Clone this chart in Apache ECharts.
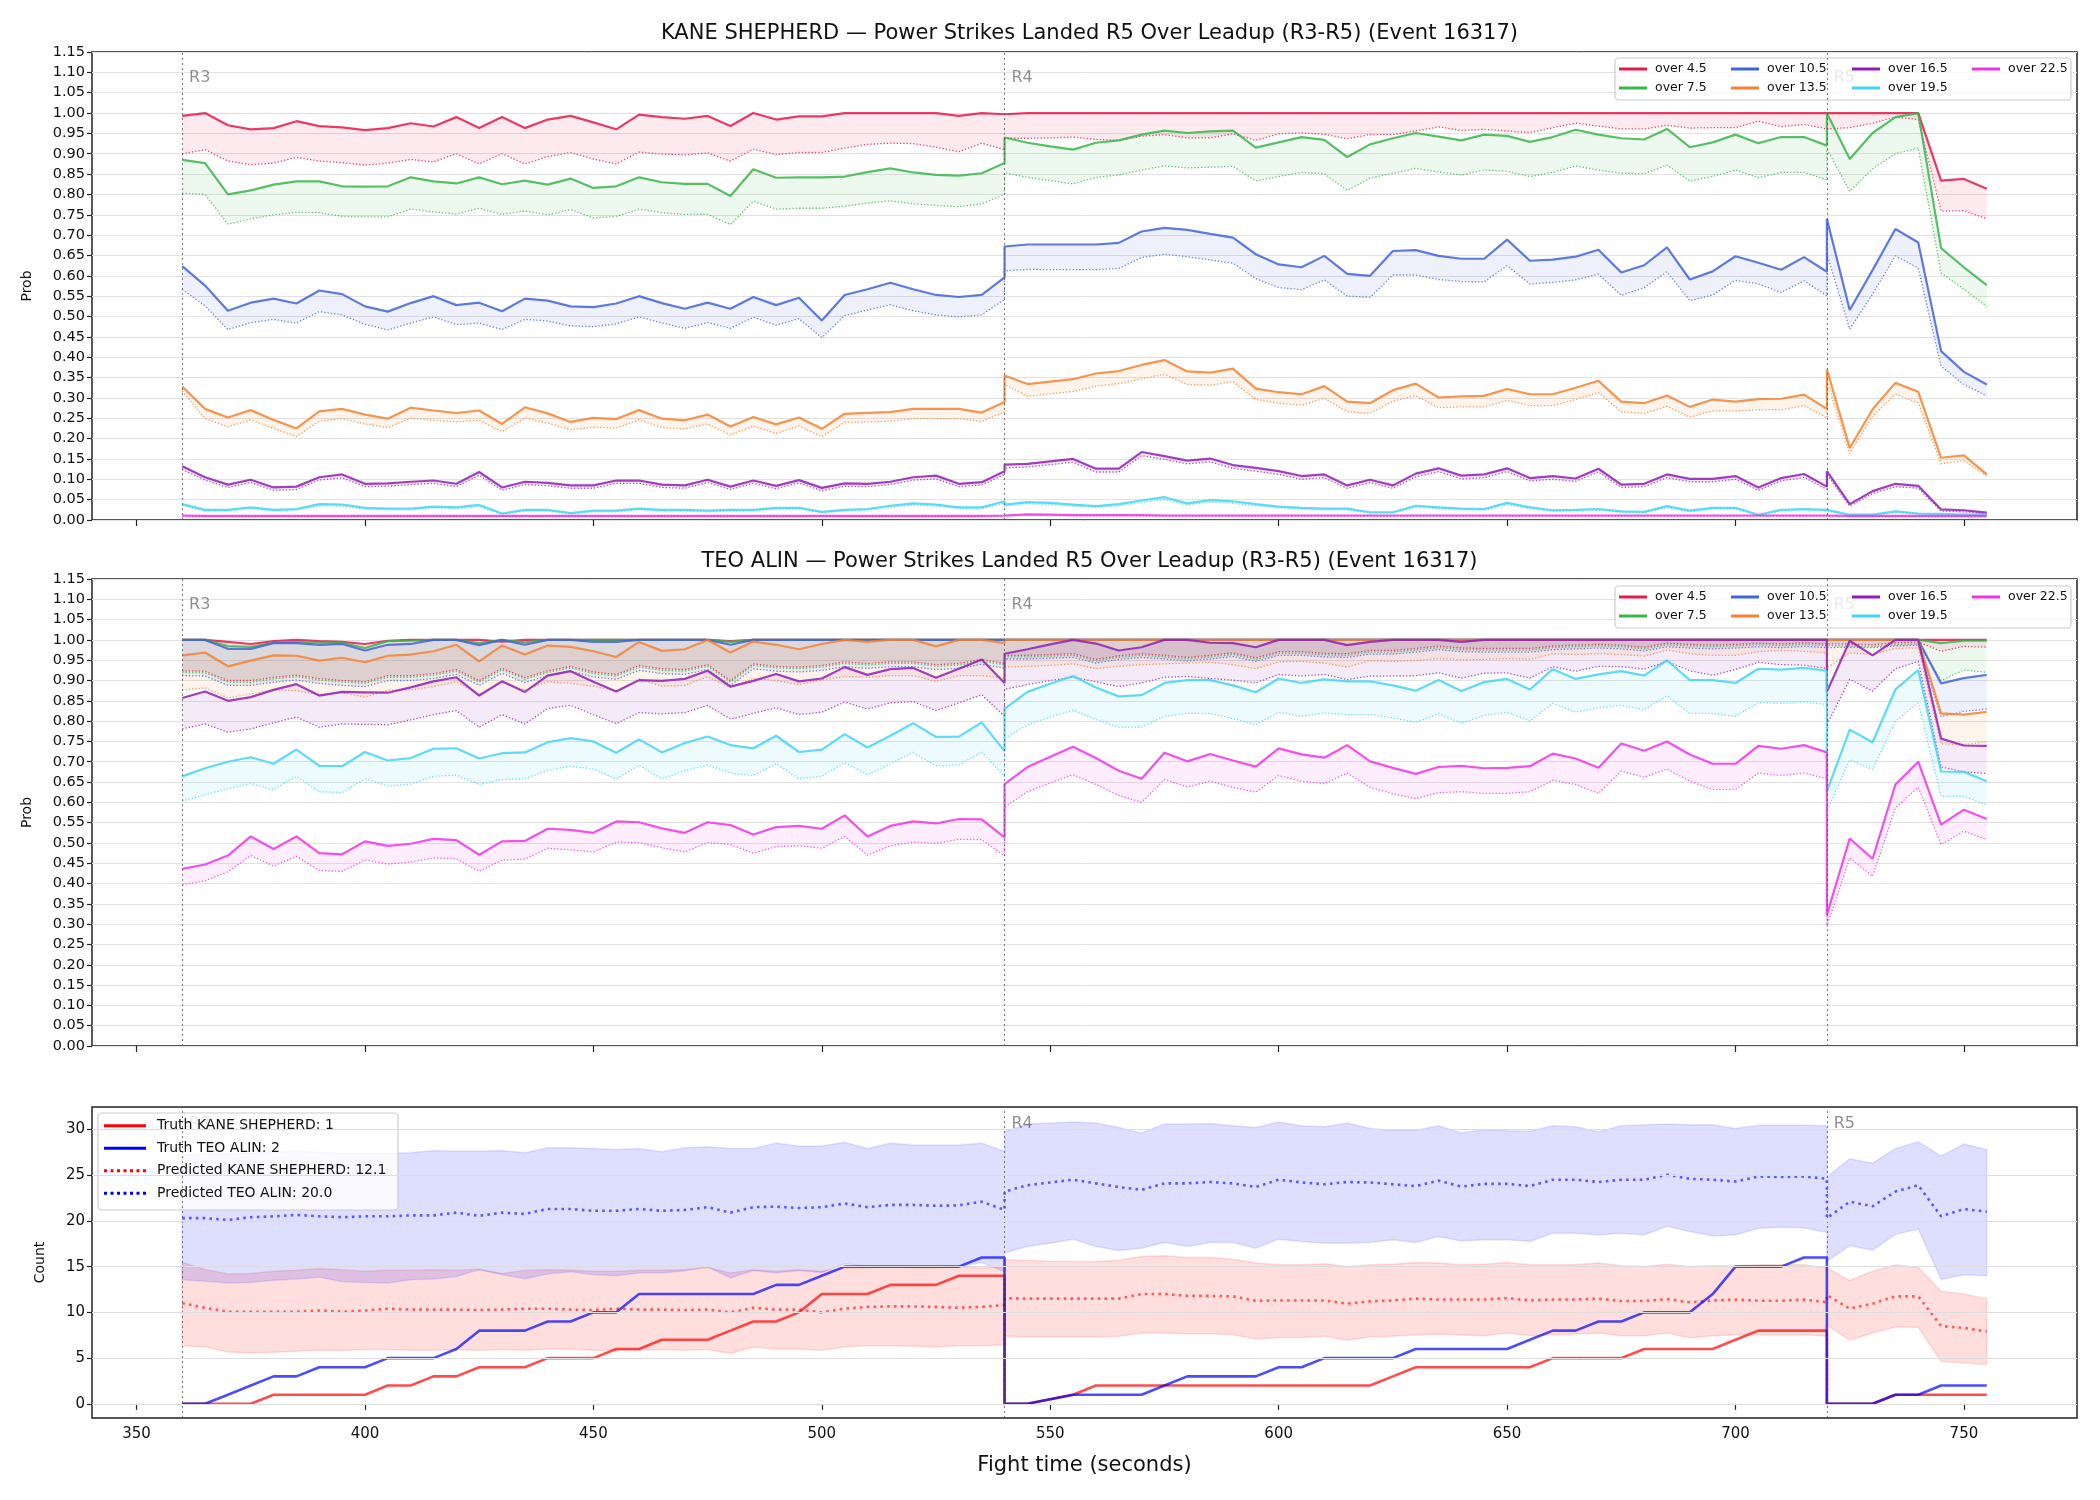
<!DOCTYPE html>
<html>
<head>
<meta charset="utf-8">
<script src="https://cdn.jsdelivr.net/npm/echarts@6/dist/echarts.min.js"></script>
<style>
  html, body { margin: 0; padding: 0; background: #fff; }
  #chart { width: 2100px; height: 1500px; }
</style>
</head>
<body>
<div id="chart"></div>
<script>
// sample times (s): R3, R4, R5 (boundaries repeated)
var times = [
  360,365,370,375,380,385,390,395,400,405,410,415,420,425,430,435,440,445,450,455,460,465,470,475,480,485,490,495,500,505,510,515,520,525,530,535,540,
  540,545,550,555,560,565,570,575,580,585,590,595,600,605,610,615,620,625,630,635,640,645,650,655,660,665,670,675,680,685,690,695,700,705,710,715,720,
  720,725,730,735,740,745,750,755
];
var xTicks = [350, 400, 450, 500, 550, 600, 650, 700, 750];
var countTicks = [0, 5, 10, 15, 20, 25, 30];
var rounds = [360, 540, 720];
var roundNames = ['R3', 'R4', 'R5'];
var lines = ['over 4.5', 'over 7.5', 'over 10.5', 'over 13.5', 'over 16.5', 'over 19.5', 'over 22.5'];

// KANE SHEPHERD, solid line and dotted line of each threshold
var kane45 = [0.993,1.0,0.97,0.96,0.963,0.98,0.968,0.965,0.958,0.963,0.975,0.967,0.99,0.963,0.99,0.963,0.984,0.993,0.977,0.96,0.996,0.99,0.986,0.993,0.968,1.0,0.984,0.992,0.992,1.0,1.0,1.0,1.0,1.0,0.993,1.0,0.997,
  1,1,1,1,1,1,1,1,1,1,1,1,1,1,1,1,1,1,1,1,1,1,1,1,1,1,1,1,1,1,1,1,1,1,1,1,1,
  1.0,1.0,1.0,1.0,1.0,0.834,0.838,0.814];
var kane45p = [0.90,0.91,0.882,0.873,0.877,0.891,0.882,0.878,0.872,0.877,0.886,0.88,0.90,0.875,0.90,0.875,0.893,0.903,0.887,0.875,0.904,0.899,0.897,0.902,0.882,0.911,0.898,0.903,0.903,0.914,0.923,0.926,0.925,0.916,0.905,0.926,0.91,
  0.938,0.938,0.939,0.941,0.935,0.933,0.943,0.947,0.939,0.939,0.949,0.933,0.949,0.951,0.948,0.937,0.947,0.947,0.956,0.966,0.957,0.96,0.956,0.952,0.964,0.975,0.968,0.961,0.961,0.97,0.963,0.964,0.964,0.98,0.967,0.972,0.961,
  0.961,0.964,0.975,0.99,0.984,0.759,0.76,0.74];
var kane75 = [0.885,0.877,0.80,0.81,0.824,0.832,0.832,0.82,0.819,0.82,0.842,0.832,0.827,0.842,0.825,0.834,0.824,0.839,0.816,0.82,0.842,0.83,0.826,0.826,0.796,0.862,0.841,0.842,0.842,0.844,0.855,0.864,0.854,0.848,0.846,0.852,0.877,
  0.94,0.927,0.918,0.91,0.927,0.933,0.947,0.957,0.951,0.955,0.957,0.915,0.928,0.941,0.934,0.892,0.923,0.938,0.951,0.942,0.933,0.947,0.944,0.929,0.941,0.959,0.947,0.938,0.935,0.961,0.916,0.928,0.947,0.926,0.941,0.941,0.92,
  1.0,0.887,0.951,0.99,1.0,0.668,0.621,0.577];
var kane75p = [0.803,0.80,0.727,0.74,0.75,0.756,0.755,0.746,0.745,0.745,0.764,0.757,0.752,0.766,0.751,0.759,0.75,0.763,0.742,0.746,0.764,0.755,0.751,0.751,0.726,0.783,0.764,0.766,0.766,0.771,0.779,0.784,0.777,0.773,0.77,0.777,0.80,
  0.853,0.842,0.834,0.826,0.842,0.848,0.86,0.87,0.865,0.867,0.869,0.833,0.844,0.854,0.851,0.81,0.84,0.852,0.864,0.855,0.848,0.86,0.857,0.844,0.854,0.87,0.86,0.852,0.851,0.872,0.833,0.844,0.86,0.841,0.854,0.854,0.836,
  0.912,0.808,0.863,0.90,0.914,0.607,0.567,0.525];
var kane105 = [0.624,0.576,0.514,0.534,0.544,0.532,0.564,0.555,0.525,0.512,0.533,0.55,0.528,0.534,0.513,0.544,0.539,0.525,0.523,0.532,0.55,0.533,0.519,0.534,0.519,0.548,0.528,0.546,0.49,0.553,0.567,0.583,0.567,0.553,0.548,0.553,0.596,
  0.672,0.677,0.677,0.677,0.677,0.681,0.709,0.718,0.713,0.703,0.694,0.653,0.628,0.621,0.649,0.605,0.60,0.661,0.663,0.649,0.642,0.642,0.689,0.637,0.64,0.647,0.664,0.608,0.626,0.67,0.591,0.611,0.648,0.632,0.615,0.646,0.61,
  0.74,0.516,0.614,0.715,0.682,0.415,0.364,0.333];
var kane105p = [0.567,0.526,0.468,0.485,0.493,0.484,0.512,0.504,0.481,0.467,0.484,0.499,0.48,0.484,0.468,0.493,0.489,0.477,0.475,0.482,0.499,0.484,0.471,0.485,0.471,0.498,0.479,0.495,0.448,0.502,0.516,0.529,0.514,0.504,0.499,0.504,0.542,
  0.612,0.616,0.615,0.615,0.615,0.618,0.645,0.653,0.647,0.639,0.631,0.593,0.571,0.566,0.59,0.55,0.547,0.602,0.602,0.591,0.586,0.585,0.625,0.58,0.584,0.59,0.604,0.552,0.571,0.61,0.539,0.553,0.589,0.58,0.559,0.588,0.551,
  0.654,0.469,0.555,0.649,0.619,0.378,0.333,0.305];
var kane135 = [0.328,0.273,0.252,0.27,0.246,0.225,0.267,0.273,0.259,0.249,0.276,0.269,0.263,0.269,0.236,0.277,0.262,0.241,0.251,0.248,0.27,0.249,0.245,0.259,0.23,0.253,0.235,0.252,0.224,0.261,0.263,0.265,0.273,0.273,0.273,0.264,0.29,
  0.355,0.334,0.34,0.346,0.36,0.366,0.381,0.393,0.365,0.362,0.372,0.323,0.314,0.309,0.329,0.291,0.287,0.319,0.335,0.301,0.304,0.305,0.322,0.309,0.309,0.325,0.342,0.291,0.287,0.306,0.278,0.296,0.291,0.297,0.298,0.308,0.273,
  0.37,0.177,0.272,0.337,0.315,0.153,0.159,0.112];
var kane135p = [0.317,0.249,0.229,0.246,0.225,0.205,0.243,0.249,0.236,0.227,0.25,0.245,0.241,0.245,0.217,0.251,0.238,0.222,0.228,0.226,0.246,0.227,0.224,0.236,0.209,0.231,0.213,0.231,0.205,0.24,0.241,0.243,0.249,0.249,0.249,0.242,0.266,
  0.333,0.304,0.31,0.316,0.329,0.335,0.347,0.358,0.333,0.331,0.34,0.296,0.287,0.282,0.299,0.266,0.262,0.292,0.305,0.276,0.278,0.278,0.294,0.281,0.281,0.296,0.313,0.266,0.262,0.279,0.253,0.268,0.268,0.271,0.271,0.281,0.251,
  0.342,0.163,0.255,0.309,0.288,0.138,0.146,0.108];
var kane165 = [0.132,0.105,0.087,0.099,0.08,0.082,0.105,0.112,0.089,0.09,0.094,0.097,0.089,0.118,0.08,0.094,0.091,0.085,0.085,0.097,0.097,0.087,0.085,0.099,0.082,0.097,0.084,0.098,0.079,0.09,0.089,0.094,0.105,0.109,0.089,0.093,0.12,
  0.136,0.138,0.144,0.15,0.126,0.126,0.167,0.157,0.146,0.151,0.135,0.128,0.12,0.108,0.112,0.085,0.099,0.085,0.114,0.127,0.109,0.112,0.127,0.103,0.108,0.102,0.126,0.087,0.089,0.112,0.101,0.101,0.108,0.08,0.103,0.113,0.082,
  0.12,0.039,0.071,0.089,0.084,0.026,0.024,0.018];
var kane165p = [0.124,0.098,0.08,0.092,0.073,0.075,0.098,0.104,0.082,0.083,0.087,0.09,0.082,0.11,0.073,0.087,0.084,0.078,0.078,0.09,0.09,0.08,0.078,0.092,0.075,0.09,0.077,0.091,0.072,0.083,0.082,0.087,0.098,0.101,0.082,0.086,0.112,
  0.128,0.13,0.136,0.142,0.118,0.118,0.158,0.149,0.138,0.143,0.127,0.12,0.112,0.1,0.104,0.078,0.092,0.078,0.106,0.119,0.101,0.104,0.119,0.096,0.1,0.095,0.118,0.08,0.082,0.104,0.094,0.094,0.1,0.073,0.096,0.105,0.075,
  0.112,0.034,0.065,0.082,0.078,0.022,0.02,0.015];
var kane195 = [0.039,0.025,0.025,0.031,0.025,0.027,0.039,0.038,0.03,0.028,0.028,0.033,0.031,0.037,0.016,0.025,0.025,0.017,0.023,0.023,0.028,0.025,0.025,0.023,0.025,0.025,0.03,0.03,0.02,0.025,0.027,0.035,0.041,0.038,0.031,0.031,0.046,
  0.038,0.044,0.042,0.038,0.034,0.039,0.048,0.056,0.041,0.049,0.046,0.039,0.033,0.03,0.028,0.028,0.019,0.019,0.035,0.031,0.028,0.027,0.042,0.031,0.024,0.025,0.027,0.021,0.02,0.034,0.023,0.03,0.03,0.013,0.025,0.027,0.025,
  0.025,0.013,0.013,0.021,0.016,0.015,0.013,0.013];
var kane195p = [0.036,0.022,0.022,0.028,0.022,0.024,0.035,0.034,0.027,0.025,0.025,0.03,0.028,0.033,0.014,0.022,0.022,0.015,0.02,0.02,0.025,0.022,0.022,0.02,0.022,0.022,0.027,0.027,0.018,0.022,0.024,0.031,0.037,0.034,0.028,0.028,0.041,
  0.034,0.04,0.038,0.034,0.031,0.035,0.043,0.05,0.037,0.044,0.041,0.035,0.03,0.027,0.025,0.025,0.017,0.017,0.031,0.028,0.025,0.024,0.038,0.028,0.021,0.022,0.024,0.019,0.018,0.03,0.02,0.027,0.027,0.011,0.022,0.024,0.022,
  0.022,0.011,0.011,0.019,0.014,0.013,0.011,0.011];
var kane225 = [0.011,0.01,0.01,0.01,0.01,0.01,0.01,0.01,0.01,0.01,0.01,0.01,0.01,0.01,0.01,0.01,0.01,0.01,0.01,0.01,0.01,0.01,0.01,0.01,0.01,0.01,0.01,0.01,0.01,0.01,0.01,0.01,0.01,0.01,0.01,0.01,0.011,
  0.013,0.014,0.013,0.012,0.012,0.012,0.012,0.011,0.011,0.011,0.011,0.011,0.011,0.011,0.011,0.011,0.011,0.011,0.011,0.011,0.011,0.011,0.011,0.011,0.011,0.011,0.011,0.011,0.011,0.011,0.011,0.011,0.011,0.011,0.011,0.011,0.011,
  0.011,0.01,0.01,0.01,0.01,0.01,0.01,0.01];
var kane225p = [0.008,0.008,0.008,0.008,0.008,0.008,0.008,0.008,0.008,0.008,0.008,0.008,0.008,0.008,0.008,0.008,0.008,0.008,0.008,0.008,0.008,0.008,0.008,0.008,0.008,0.008,0.008,0.008,0.008,0.008,0.008,0.008,0.008,0.008,0.008,0.008,0.009,
  0.011,0.012,0.011,0.01,0.01,0.01,0.01,0.009,0.009,0.009,0.009,0.009,0.009,0.009,0.009,0.009,0.009,0.009,0.009,0.009,0.009,0.009,0.009,0.009,0.009,0.009,0.009,0.009,0.009,0.009,0.009,0.009,0.009,0.009,0.009,0.009,0.009,
  0.009,0.008,0.008,0.008,0.008,0.008,0.008,0.008];

// TEO ALIN
var teo45 = [1.0,1.0,0.995,0.99,0.997,1.0,0.997,0.995,0.99,0.998,1.0,1.0,1.0,1.0,0.996,1.0,1.0,1.0,1.0,1.0,1.0,1.0,1.0,1.0,0.997,1.0,1.0,1.0,1.0,1.0,1.0,1.0,1.0,1.0,1.0,1.0,1.0,
  1,1,1,1,1,1,1,1,1,1,1,1,1,1,1,1,1,1,1,1,1,1,1,1,1,1,1,1,1,1,1,1,1,1,1,1,1,
  1,1,1,1,1,1,1,1];
var teo45p = [0.924,0.923,0.90,0.90,0.908,0.913,0.905,0.90,0.897,0.912,0.912,0.917,0.927,0.90,0.93,0.907,0.924,0.935,0.921,0.915,0.937,0.929,0.927,0.939,0.90,0.941,0.935,0.933,0.937,0.946,0.942,0.946,0.946,0.939,0.942,0.952,0.942,
  0.962,0.962,0.964,0.966,0.952,0.961,0.966,0.962,0.957,0.962,0.968,0.956,0.971,0.971,0.967,0.966,0.974,0.974,0.979,0.985,0.98,0.979,0.979,0.979,0.985,0.987,0.989,0.987,0.982,0.992,0.989,0.987,0.989,0.992,0.99,0.993,0.99,
  0.992,0.99,0.988,0.993,0.995,0.972,0.984,0.982];
var teo75 = [1.0,1.0,0.985,0.983,0.993,0.995,0.993,0.993,0.98,0.997,0.998,1.0,1.0,0.992,1.0,0.994,1.0,1.0,1.0,1.0,1.0,1.0,1.0,1.0,0.995,1.0,1.0,1.0,1.0,1.0,1.0,1.0,1.0,1.0,1.0,1.0,1.0,
  1,1,1,1,1,1,1,1,1,1,1,1,1,1,1,1,1,1,1,1,1,1,1,1,1,1,1,1,1,1,1,1,1,1,1,1,1,
  1.0,1.0,1.0,1.0,1.0,0.992,0.998,0.998];
var teo75p = [0.92,0.919,0.896,0.895,0.904,0.909,0.901,0.896,0.893,0.908,0.908,0.913,0.923,0.896,0.926,0.903,0.92,0.931,0.917,0.911,0.933,0.925,0.923,0.935,0.896,0.937,0.931,0.929,0.933,0.942,0.938,0.942,0.942,0.935,0.938,0.948,0.938,
  0.958,0.958,0.96,0.962,0.948,0.957,0.962,0.958,0.953,0.958,0.964,0.952,0.967,0.967,0.963,0.962,0.97,0.97,0.975,0.981,0.976,0.975,0.975,0.975,0.981,0.983,0.985,0.983,0.978,0.988,0.985,0.983,0.985,0.988,0.986,0.989,0.986,
  0.986,0.985,0.984,0.988,0.99,0.90,0.926,0.92];
var teo105 = [1.0,1.0,0.978,0.978,0.992,0.992,0.988,0.99,0.974,0.988,0.99,1.0,1.0,0.987,1.0,0.988,1.0,1.0,0.995,0.995,1.0,1.0,1.0,1.0,0.988,1.0,1.0,1.0,1.0,1.0,1.0,1.0,1.0,1.0,1.0,1.0,1.0,
  1,1,1,1,1,1,1,1,1,1,1,1,1,1,1,1,1,1,1,1,1,1,1,1,1,1,1,1,1,1,1,1,1,1,1,1,1,
  1.0,1.0,1.0,1.0,1.0,0.893,0.906,0.914];
var teo105p = [0.912,0.911,0.888,0.888,0.896,0.901,0.893,0.888,0.885,0.9,0.9,0.905,0.915,0.888,0.918,0.895,0.912,0.923,0.909,0.903,0.925,0.917,0.915,0.927,0.888,0.929,0.923,0.921,0.925,0.934,0.93,0.934,0.934,0.927,0.93,0.94,0.93,
  0.953,0.953,0.955,0.957,0.943,0.952,0.957,0.953,0.948,0.953,0.959,0.947,0.962,0.962,0.958,0.957,0.965,0.965,0.97,0.976,0.971,0.97,0.97,0.97,0.976,0.978,0.98,0.978,0.973,0.983,0.98,0.978,0.98,0.983,0.981,0.984,0.981,
  0.98,0.982,0.981,0.985,0.987,0.811,0.824,0.83];
var teo135 = [0.962,0.969,0.935,0.949,0.962,0.961,0.949,0.956,0.945,0.961,0.964,0.972,0.988,0.947,0.986,0.964,0.986,0.983,0.972,0.958,0.995,0.973,0.977,1.0,0.969,0.996,0.988,0.977,0.99,1.0,0.995,1.0,1.0,0.984,1.0,1.0,0.992,
  1,1,1,1,1,1,1,1,1,1,1,1,1,1,1,1,1,1,1,1,1,1,1,1,1,1,1,1,1,1,1,1,1,1,1,1,1,
  1.0,1.0,1.0,1.0,1.0,0.819,0.816,0.823];
var teo135p = [0.877,0.882,0.857,0.867,0.877,0.875,0.865,0.87,0.859,0.876,0.877,0.885,0.897,0.865,0.895,0.877,0.897,0.893,0.886,0.874,0.904,0.886,0.888,0.909,0.883,0.905,0.9,0.89,0.901,0.91,0.908,0.912,0.912,0.898,0.912,0.912,0.906,
  0.933,0.935,0.937,0.941,0.929,0.935,0.939,0.941,0.943,0.945,0.939,0.929,0.946,0.947,0.943,0.933,0.949,0.947,0.949,0.954,0.951,0.952,0.954,0.952,0.966,0.964,0.966,0.964,0.96,0.975,0.966,0.962,0.962,0.971,0.974,0.972,0.968,
  0.931,0.968,0.964,0.979,0.98,0.744,0.742,0.749];
var teo165 = [0.857,0.873,0.85,0.859,0.877,0.891,0.863,0.872,0.871,0.87,0.883,0.898,0.908,0.863,0.898,0.872,0.912,0.923,0.897,0.873,0.901,0.899,0.904,0.924,0.885,0.899,0.916,0.898,0.905,0.933,0.914,0.928,0.931,0.907,0.929,0.952,0.894,
  0.966,0.977,0.989,1.0,0.991,0.974,0.982,1.0,1.0,0.993,0.992,0.982,1.0,1.0,1.0,0.987,0.995,1.0,1.0,1.0,0.995,1.0,1,1,1,1,1,1,1,1,1,1,1,1,1,1,1,
  0.872,0.998,0.962,1.0,1.0,0.757,0.74,0.739];
var teo165p = [0.781,0.793,0.773,0.781,0.796,0.81,0.785,0.793,0.792,0.791,0.803,0.816,0.826,0.785,0.816,0.793,0.831,0.839,0.816,0.794,0.821,0.818,0.821,0.839,0.805,0.819,0.833,0.816,0.822,0.847,0.83,0.845,0.848,0.826,0.845,0.865,0.812,
  0.878,0.89,0.9,0.908,0.897,0.885,0.894,0.908,0.91,0.905,0.901,0.894,0.915,0.911,0.915,0.902,0.911,0.911,0.912,0.919,0.906,0.918,0.919,0.906,0.934,0.923,0.935,0.934,0.928,0.947,0.924,0.913,0.927,0.945,0.939,0.938,0.929,
  0.791,0.903,0.874,0.929,0.947,0.687,0.675,0.671];
var teo195 = [0.664,0.684,0.70,0.711,0.695,0.73,0.69,0.689,0.724,0.703,0.709,0.732,0.733,0.708,0.721,0.723,0.748,0.758,0.75,0.722,0.755,0.723,0.746,0.762,0.741,0.733,0.764,0.724,0.73,0.768,0.735,0.764,0.795,0.761,0.762,0.797,0.726,
  0.83,0.872,0.892,0.911,0.883,0.861,0.864,0.894,0.901,0.901,0.888,0.871,0.905,0.894,0.903,0.898,0.898,0.888,0.875,0.901,0.874,0.896,0.904,0.878,0.928,0.904,0.915,0.923,0.912,0.95,0.901,0.901,0.894,0.929,0.927,0.931,0.924,
  0.627,0.779,0.748,0.878,0.926,0.676,0.675,0.652];
var teo195p = [0.603,0.619,0.634,0.646,0.631,0.664,0.626,0.624,0.658,0.64,0.645,0.664,0.667,0.644,0.656,0.658,0.679,0.689,0.682,0.658,0.691,0.658,0.678,0.692,0.672,0.666,0.695,0.658,0.664,0.698,0.668,0.695,0.723,0.69,0.692,0.724,0.663,
  0.757,0.791,0.81,0.827,0.804,0.785,0.785,0.812,0.819,0.819,0.806,0.791,0.822,0.812,0.82,0.816,0.816,0.808,0.797,0.818,0.795,0.814,0.822,0.80,0.844,0.822,0.833,0.839,0.828,0.862,0.819,0.819,0.812,0.846,0.844,0.847,0.841,
  0.578,0.705,0.681,0.80,0.845,0.615,0.615,0.594];
var teo225 = [0.436,0.447,0.469,0.516,0.485,0.516,0.475,0.472,0.504,0.493,0.498,0.51,0.507,0.471,0.504,0.505,0.535,0.532,0.525,0.553,0.551,0.536,0.525,0.551,0.544,0.521,0.539,0.542,0.535,0.568,0.516,0.542,0.553,0.548,0.559,0.558,0.514,
  0.645,0.687,0.712,0.737,0.709,0.678,0.658,0.722,0.701,0.719,0.703,0.688,0.733,0.718,0.71,0.741,0.701,0.685,0.67,0.687,0.69,0.684,0.685,0.689,0.72,0.708,0.685,0.745,0.727,0.75,0.718,0.695,0.695,0.739,0.732,0.741,0.723,
  0.323,0.511,0.461,0.644,0.70,0.545,0.582,0.559];
var teo225p = [0.397,0.407,0.429,0.469,0.443,0.467,0.432,0.43,0.458,0.448,0.453,0.463,0.461,0.43,0.458,0.46,0.487,0.483,0.478,0.502,0.501,0.488,0.478,0.501,0.496,0.475,0.491,0.493,0.487,0.516,0.47,0.493,0.502,0.499,0.509,0.508,0.468,
  0.588,0.626,0.648,0.668,0.644,0.617,0.60,0.656,0.638,0.652,0.637,0.625,0.666,0.652,0.646,0.672,0.637,0.621,0.609,0.624,0.626,0.622,0.622,0.626,0.654,0.644,0.622,0.677,0.662,0.682,0.652,0.632,0.632,0.672,0.666,0.672,0.658,
  0.295,0.463,0.418,0.586,0.637,0.496,0.529,0.508];

// counts panel
var truthKane = [0,0,0,0,1,1,1,1,1,2,2,3,3,4,4,4,5,5,5,6,6,7,7,7,8,9,9,10,12,12,12,13,13,13,14,14,14,
  0,0,0.5,1,2,2,2,2,2,2,2,2,2,2,2,2,2,3,4,4,4,4,4,4,5,5,5,5,6,6,6,6,7,8,8,8,8,
  0,0,0,1,1,1,1,1];
var truthTeo = [0,0,1,2,3,3,4,4,4,5,5,5,6,8,8,8,9,9,10,10,12,12,12,12,12,12,13,13,14,15,15,15,15,15,15,16,16,
  0,0,0.5,1,1,1,1,2,3,3,3,3,4,4,5,5,5,5,6,6,6,6,6,7,8,8,9,9,10,10,10,12,15,15,15,16,16,
  0,0,0,1,1,2,2,2];
var predKane = [11.0,10.5,10.07,10.07,10.07,10.07,10.2,10.07,10.2,10.4,10.3,10.3,10.3,10.25,10.3,10.4,10.4,10.3,10.25,10.4,10.3,10.3,10.25,10.3,10.0,10.5,10.3,10.3,10.0,10.4,10.6,10.65,10.65,10.6,10.5,10.6,10.8,
  11.56,11.5,11.5,11.5,11.5,11.5,12.0,12.0,11.8,11.8,11.75,11.27,11.3,11.3,11.3,10.95,11.2,11.3,11.5,11.4,11.4,11.4,11.56,11.3,11.4,11.4,11.5,11.24,11.24,11.45,11.1,11.3,11.4,11.27,11.27,11.4,11.1,
  11.9,10.4,10.95,11.75,11.75,8.5,8.3,7.9];
var predTeo = [20.3,20.3,20.1,20.4,20.5,20.65,20.5,20.4,20.5,20.5,20.6,20.6,20.9,20.55,20.9,20.76,21.3,21.3,21.1,21.1,21.3,21.1,21.2,21.5,20.9,21.5,21.56,21.4,21.5,21.9,21.5,21.75,21.75,21.65,21.7,22.1,21.2,
  23.2,23.9,24.2,24.5,24.1,23.7,23.4,24.1,24.1,24.25,24.1,23.7,24.5,24.2,24.0,24.25,24.2,24.0,23.8,24.4,23.75,24.05,24.05,23.8,24.5,24.5,24.25,24.5,24.5,25.05,24.6,24.5,24.3,24.85,24.8,24.85,24.6,
  20.3,22.1,21.6,23.2,23.9,20.5,21.3,21.0];
var kaneHi = [15.45,14.7,14.2,14.25,14.5,14.6,14.8,14.65,14.5,14.6,14.6,14.65,14.6,14.7,14.25,14.6,14.65,14.6,14.5,14.5,14.6,14.6,14.65,14.9,14.3,14.65,14.5,14.65,14.5,14.84,14.84,15.0,14.84,14.84,15.0,14.84,15.0,
  15.75,15.7,15.6,15.56,15.56,15.7,16.1,16.2,16.0,16.0,15.8,15.4,15.2,15.2,15.3,15.0,15.2,15.25,15.45,15.4,15.2,15.25,15.45,15.2,15.2,15.2,15.4,15.1,15.0,15.25,15.0,15.1,15.1,15.2,15.2,15.2,14.84,
  14.84,13.5,14.5,15.2,14.9,12.3,12.0,11.5];
var kaneLo = [6.36,6.2,5.67,5.56,5.64,5.75,5.85,5.82,5.93,5.93,5.85,5.85,5.93,5.85,5.93,5.85,6.0,6.0,5.85,5.85,5.85,5.93,5.85,5.93,5.5,6.2,6.0,6.0,5.85,6.2,6.36,6.36,6.3,6.2,6.36,6.36,6.47,
  7.4,7.3,7.3,7.3,7.3,7.4,7.75,7.75,7.67,7.67,7.56,7.1,7.24,7.24,7.4,6.95,7.3,7.4,7.56,7.6,7.53,7.45,7.75,7.45,7.56,7.64,7.75,7.45,7.45,7.75,7.2,7.45,7.56,7.56,7.56,7.56,7.4,
  8.65,6.95,7.75,8.4,8.36,4.65,4.47,4.3];
var teoHi = [27.2,27.3,27.3,27.4,27.5,27.6,27.5,27.4,27.4,27.4,27.45,27.7,27.6,27.6,27.7,27.45,28.0,28.0,27.9,27.8,27.9,27.56,28.0,28.1,27.9,27.9,28.5,28.2,28.2,28.6,27.9,28.5,28.3,28.3,28.3,28.5,27.6,
  29.75,30.6,30.7,30.8,30.7,30.2,29.6,30.6,30.6,30.65,30.4,30.2,30.8,30.4,30.3,30.7,30.1,29.9,29.9,30.4,29.6,30.0,29.85,29.8,30.4,30.3,29.75,30.4,30.5,30.6,30.5,30.5,30.1,30.45,30.45,30.45,30.4,
  24.8,26.8,26.3,27.9,28.65,27.1,28.4,27.8];
var teoLo = [13.56,13.4,13.2,13.27,13.5,13.64,13.85,13.35,13.27,13.2,13.56,13.64,13.93,14.65,14.1,13.67,14.2,14.44,14.1,14.0,14.3,14.3,14.55,14.95,13.75,14.58,14.3,14.58,14.36,15.3,15.0,15.1,14.95,15.0,15.0,15.45,14.44,
  16.5,17.2,17.56,18.0,17.2,16.76,17.0,17.64,17.2,17.64,17.64,17.0,18.0,17.75,17.56,17.56,17.64,17.93,17.64,18.3,17.8,17.93,17.93,17.75,18.65,18.65,18.47,18.65,18.47,19.4,18.84,18.36,18.47,19.2,19.3,19.24,18.73,
  15.56,17.3,16.8,18.5,19.1,13.6,14.1,14.0];

var colors = ['#e6194b', '#3cb44b', '#4363d8', '#f58231', '#911eb4', '#42d4f4', '#f032e6'];
var kaneSets = [[kane45, kane45p], [kane75, kane75p], [kane105, kane105p], [kane135, kane135p], [kane165, kane165p], [kane195, kane195p], [kane225, kane225p]];
var teoSets = [[teo45, teo45p], [teo75, teo75p], [teo105, teo105p], [teo135, teo135p], [teo165, teo165p], [teo195, teo195p], [teo225, teo225p]];

var FONT = 'DejaVu Sans';
var GL = 92, GW = 1985;
var XMIN = 340.25, XMAX = 774.75;

function rgba(hex, a) {
  var n = parseInt(hex.slice(1), 16);
  return 'rgba(' + (n >> 16) + ',' + ((n >> 8) & 255) + ',' + (n & 255) + ',' + a + ')';
}
function pts(arr) {
  return times.map(function (t, i) { return [t, arr[i]]; });
}
// filled band between two curves, drawn as one polygon through the axis scales
function band(gi, lo, hi, fill, stroke) {
  return {
    type: 'custom', name: 'band', xAxisIndex: gi, yAxisIndex: gi, silent: true, z: 1,
    animation: false, data: [[times[0], lo[0]]],
    renderItem: function (params, api) {
      var p = [], i;
      for (i = 0; i < times.length; i++) p.push(api.coord([times[i], hi[i]]));
      for (i = times.length - 1; i >= 0; i--) p.push(api.coord([times[i], lo[i]]));
      return { type: 'polygon', shape: { points: p },
        style: { fill: fill, stroke: stroke || null, lineWidth: stroke ? 1.5 : 0 } };
    }
  };
}
function line(name, gi, arr, color, width, dash, op, z) {
  return {
    name: name, type: 'line', xAxisIndex: gi, yAxisIndex: gi, data: pts(arr),
    showSymbol: false, symbol: 'none', animation: false, z: z || 3,
    color: color, itemStyle: { color: color },
    lineStyle: { color: color, width: width, type: dash || 'solid', opacity: op }
  };
}
// round markers: dotted vertical lines + R labels
function roundMarks(gi, yLab) {
  return {
    type: 'scatter', name: 'rounds', xAxisIndex: gi, yAxisIndex: gi, symbolSize: 0, silent: true,
    animation: false, z: 2,
    data: rounds.map(function (r, i) { return { value: [r + 1.5, yLab], name: roundNames[i] }; }),
    label: { show: true, position: 'right', distance: 0, formatter: '{b}',
      fontFamily: FONT, fontSize: 16, color: 'rgba(80,80,80,0.8)' },
    markLine: {
      silent: true, symbol: 'none', label: { show: false }, animation: false,
      lineStyle: { type: [2, 3], color: '#555', width: 1, opacity: 0.8 },
      data: rounds.map(function (r) { return { xAxis: r }; })
    }
  };
}

var series = [];
[kaneSets, teoSets].forEach(function (sets, gi) {
  sets.forEach(function (s, k) {
    series.push(band(gi, s[1], s[0], rgba(colors[k], 0.09)));
    series.push(line(lines[k], gi, s[0], colors[k], 2.2, 'solid', 0.85, 3));
    series.push(line(lines[k] + ' pred', gi, s[1], colors[k], 1.3, [1.3, 2], 0.8, 3));
  });
  series.push(roundMarks(gi, 1.087));
});
series.push(band(2, kaneLo, kaneHi, 'rgba(255,0,0,0.13)', 'rgba(255,0,0,0.12)'));
series.push(band(2, teoLo, teoHi, 'rgba(0,0,255,0.13)', 'rgba(0,0,255,0.1)'));
series.push(line('Predicted KANE SHEPHERD: 12.1', 2, predKane, '#ff0000', 2.6, [2.6, 4.2], 0.6, 3));
series.push(line('Predicted TEO ALIN: 20.0', 2, predTeo, '#0000ff', 2.6, [2.6, 4.2], 0.6, 3));
series.push(line('Truth KANE SHEPHERD: 1', 2, truthKane, '#ff0000', 2.6, 'solid', 0.7, 4));
series.push(line('Truth TEO ALIN: 2', 2, truthTeo, '#0000ff', 2.6, 'solid', 0.7, 4));
series.push(roundMarks(2, 30.6));
// horizontal grid lines of the count panel
series.push({
  type: 'line', name: 'cgrid', xAxisIndex: 2, yAxisIndex: 2, data: [], z: 0,
  markLine: { silent: true, symbol: 'none', label: { show: false }, animation: false,
    lineStyle: { type: 'solid', color: '#dddddd', width: 1 },
    data: countTicks.map(function (v) { return { yAxis: v }; }) }
});

var grids = [
  { left: GL, top: 52, width: GW, height: 468 },
  { left: GL, top: 579, width: GW, height: 467 },
  { left: GL, top: 1107, width: GW, height: 311 }
];
grids.forEach(function (g) { g.show = true; g.borderColor = '#222'; g.borderWidth = 1.5; g.backgroundColor = 'transparent'; });

function xAxis(gi, labels) {
  return {
    type: 'value', gridIndex: gi, min: XMIN, max: XMAX,
    axisLine: { show: false }, splitLine: { show: false },
    axisTick: { show: true, length: 6, customValues: xTicks, lineStyle: { color: '#222', width: 1.2 } },
    axisLabel: { show: labels, customValues: xTicks, fontFamily: FONT, fontSize: 15, color: '#111', margin: 9 },
    name: labels ? 'Fight time (seconds)' : '', nameLocation: 'middle', nameGap: 37,
    nameTextStyle: { fontFamily: FONT, fontSize: 21, color: '#111' }
  };
}
function probAxis(gi) {
  return {
    type: 'value', gridIndex: gi, min: 0, max: 1.15, interval: 0.05,
    axisLine: { show: false },
    axisTick: { show: true, length: 5, lineStyle: { color: '#222', width: 1.2 } },
    axisLabel: { fontFamily: FONT, fontSize: 14.5, color: '#111', margin: 7,
      formatter: function (v) { return v.toFixed(2); } },
    splitLine: { show: true, lineStyle: { color: '#e2e2e2', width: 1 } },
    name: 'Prob', nameLocation: 'middle', nameGap: 58, nameRotate: 90,
    nameTextStyle: { fontFamily: FONT, fontSize: 14, color: '#111' }
  };
}

function colLegend(names, left, top) {
  return {
    orient: 'vertical', left: left, top: top, padding: 0, itemGap: 5,
    itemWidth: 28, itemHeight: 3, icon: 'rect', data: names, selectedMode: false,
    textStyle: { fontFamily: FONT, fontSize: 12.5, color: '#111', lineHeight: 14, padding: [0, 0, 0, 3] }
  };
}
var cols = [[lines[0], lines[1]], [lines[2], lines[3]], [lines[4], lines[5]], [lines[6]]];
var colX = [1619, 1731, 1852, 1972];
var legends = [];
[62, 590].forEach(function (top) {
  cols.forEach(function (c, i) { legends.push(colLegend(c, colX[i], top)); });
});
var dotIcon = 'path://M0 0h3v3h-3z M6.5 0h3v3h-3z M13 0h3v3h-3z M19.5 0h3v3h-3z M26 0h3v3h-3z M32.5 0h3v3h-3z M39 0h3v3h-3z';
legends.push({
  orient: 'vertical', left: 104, top: 1118, padding: 0, itemGap: 7,
  itemWidth: 42, itemHeight: 3, selectedMode: false,
  data: [
    { name: 'Truth KANE SHEPHERD: 1', icon: 'rect' },
    { name: 'Truth TEO ALIN: 2', icon: 'rect' },
    { name: 'Predicted KANE SHEPHERD: 12.1', icon: dotIcon },
    { name: 'Predicted TEO ALIN: 20.0', icon: dotIcon }
  ],
  textStyle: { fontFamily: FONT, fontSize: 14, color: '#111', lineHeight: 15.5, padding: [0, 0, 0, 6] }
});

function frame(x, y, w, h) {
  return { type: 'rect', z: 3, silent: true, shape: { x: x, y: y, width: w, height: h, r: 4 },
    style: { fill: 'rgba(255,255,255,0.8)', stroke: '#cccccc', lineWidth: 1.2 } };
}

var option = {
  backgroundColor: '#ffffff',
  animation: false,
  title: [
    { text: 'KANE SHEPHERD \u2014 Power Strikes Landed R5 Over Leadup (R3-R5) (Event 16317)',
      left: GL + GW / 2, top: 18, textAlign: 'center',
      textStyle: { fontFamily: FONT, fontSize: 21, fontWeight: 'normal', color: '#111' } },
    { text: 'TEO ALIN \u2014 Power Strikes Landed R5 Over Leadup (R3-R5) (Event 16317)',
      left: GL + GW / 2, top: 546, textAlign: 'center',
      textStyle: { fontFamily: FONT, fontSize: 21, fontWeight: 'normal', color: '#111' } }
  ],
  grid: grids,
  xAxis: [xAxis(0, false), xAxis(1, false), xAxis(2, true)],
  yAxis: [probAxis(0), probAxis(1), {
    type: 'value', gridIndex: 2, min: -1.55, max: 32.45,
    axisLine: { show: false }, splitLine: { show: false },
    axisTick: { show: true, length: 5, customValues: countTicks, lineStyle: { color: '#222', width: 1.2 } },
    axisLabel: { customValues: countTicks, fontFamily: FONT, fontSize: 15, color: '#111', margin: 7 },
    name: 'Count', nameLocation: 'middle', nameGap: 45, nameRotate: 90,
    nameTextStyle: { fontFamily: FONT, fontSize: 14, color: '#111' }
  }],
  legend: legends,
  graphic: [frame(1615, 58, 456, 42), frame(1615, 586, 456, 42), frame(98, 1113, 300, 97)],
  series: series
};

var myChart = echarts.init(document.getElementById('chart'));
myChart.setOption(option);
</script>
</body>
</html>
